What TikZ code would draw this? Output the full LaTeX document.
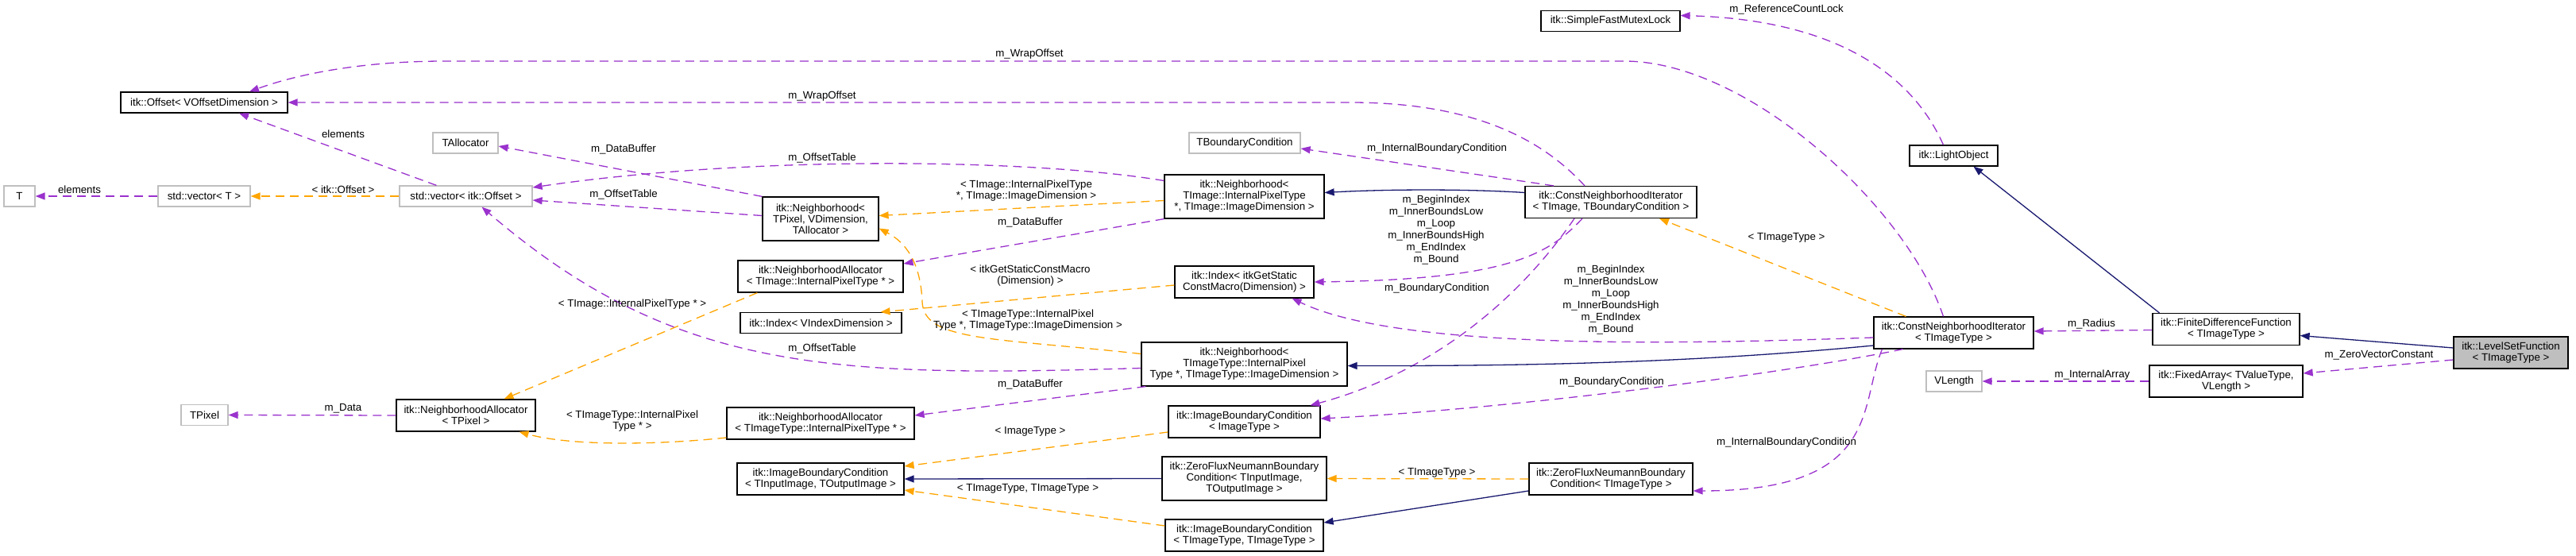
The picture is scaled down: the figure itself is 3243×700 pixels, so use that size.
\documentclass[tikz,border=0pt]{standalone}
\usepackage{fontspec}
\setmainfont{Liberation Sans}
\usetikzlibrary{arrows.meta}
\definecolor{memc}{HTML}{9A32CD}
\definecolor{tplc}{HTML}{FFA500}
\definecolor{inhc}{HTML}{191970}
\definecolor{grayb}{HTML}{BFBFBF}
\begin{document}
\begin{tikzpicture}[x=1pt,y=-1pt,
  every node/.style={font=\fontsize{13.3}{14}\selectfont},
  box/.style={draw=black, line width=1.2pt, fill=white, inner sep=0pt, align=center},
  ubox/.style={box, draw=grayb},
  lbl/.style={inner sep=0pt, align=center},
  stack/.style={lbl, font=\fontsize{13.3}{15}\selectfont},
  tip/.style={-{Triangle[length=12pt,width=9pt]}},
  memb/.style={tip, draw=memc, line width=1.3pt, dash pattern=on 11pt off 7pt},
  tmpl/.style={tip, draw=tplc, line width=1.3pt, dash pattern=on 11pt off 7pt},
  inher/.style={tip, draw=inhc, line width=1.3pt}]
\fill[white] (0,0) rectangle (3243,700);
\useasboundingbox (0,0) rectangle (3243,700);

% nodes
\node[box, minimum width=210pt, minimum height=26pt] (offset) at (257,129) {itk::Offset< VOffsetDimension >};
\node[ubox, minimum width=82pt, minimum height=26pt] (talloc) at (586,180) {TAllocator};
\node[ubox, minimum width=39pt, minimum height=26pt] (T) at (24.5,247) {T};
\node[ubox, minimum width=116pt, minimum height=26pt] (vecT) at (257,247) {std::vector< T >};
\node[ubox, minimum width=167pt, minimum height=26pt] (vecOff) at (586.5,247) {std::vector< itk::Offset >};
\node[ubox, minimum width=140pt, minimum height=26pt] (tbc) at (1567,180) {TBoundaryCondition};
\node[box, minimum width=146pt, minimum height=55pt] (nbPix) at (1033,275.5) {itk::Neighborhood<\\ TPixel, VDimension,\\ TAllocator >};
\node[box, minimum width=201pt, minimum height=55pt] (nbImg) at (1566.5,247.5) {itk::Neighborhood<\\ TImage::InternalPixelType\\ *, TImage::ImageDimension >};
\node[box, minimum width=208pt, minimum height=40pt] (naImg) at (1033,348) {itk::NeighborhoodAllocator\\< TImage::InternalPixelType * >};
\node[box, minimum width=175pt, minimum height=40pt] (idxMacro) at (1566.5,355) {itk::Index< itkGetStatic\\ConstMacro(Dimension) >};
\node[box, minimum width=175pt, minimum height=26pt] (mutex) at (2027.5,26.5) {itk::SimpleFastMutexLock};
\node[box, minimum width=111pt, minimum height=26pt] (light) at (2459.5,196) {itk::LightObject};
\node[box, minimum width=216pt, minimum height=40pt] (cniTBC) at (2028,254.5) {itk::ConstNeighborhoodIterator\\< TImage, TBoundaryCondition >};
\node[box, minimum width=203pt, minimum height=26pt] (idxV) at (1033.5,406.5) {itk::Index< VIndexDimension >};
\node[box, minimum width=259pt, minimum height=55pt] (nbType) at (1566.5,458.5) {itk::Neighborhood<\\ TImageType::InternalPixel\\Type *, TImageType::ImageDimension >};
\node[box, minimum width=236pt, minimum height=40pt] (naType) at (1033,533) {itk::NeighborhoodAllocator\\< TImageType::InternalPixelType * >};
\node[box, minimum width=191pt, minimum height=40pt] (ibcImg) at (1566.5,531) {itk::ImageBoundaryCondition\\< ImageType >};
\node[box, minimum width=210pt, minimum height=40pt] (ibcIO) at (1033,603) {itk::ImageBoundaryCondition\\< TInputImage, TOutputImage >};
\node[box, minimum width=207pt, minimum height=55pt] (zfIO) at (1566.5,602.5) {itk::ZeroFluxNeumannBoundary\\Condition< TInputImage,\\ TOutputImage >};
\node[box, minimum width=199pt, minimum height=40pt] (ibcTT) at (1566.5,674) {itk::ImageBoundaryCondition\\< TImageType, TImageType >};
\node[ubox, minimum width=59pt, minimum height=26pt] (tpixel) at (257.5,522.5) {TPixel};
\node[box, minimum width=175pt, minimum height=40pt] (naPix) at (586.5,523) {itk::NeighborhoodAllocator\\< TPixel >};
\node[box, minimum width=201pt, minimum height=40pt] (cniT) at (2459.5,419) {itk::ConstNeighborhoodIterator\\< TImageType >};
\node[box, minimum width=206pt, minimum height=40pt] (zfT) at (2028,603) {itk::ZeroFluxNeumannBoundary\\Condition< TImageType >};
\node[box, minimum width=185pt, minimum height=40pt] (fdf) at (2802.5,414.5) {itk::FiniteDifferenceFunction\\< TImageType >};
\node[box, fill=grayb, minimum width=144pt, minimum height=40pt] (lsf) at (3161,444) {itk::LevelSetFunction\\< TImageType >};
\node[box, minimum width=193pt, minimum height=40pt] (fixed) at (2802.5,480) {itk::FixedArray< TValueType,\\VLength >};
\node[ubox, minimum width=70pt, minimum height=26pt] (vlen) at (2460,480) {VLength};

% member edges
\draw[memb] ([xshift=-13pt]cniT.north) .. controls (2400,260) and (2200,77) .. (2045,77) -- (560,77) .. controls (450,77) and (370,95) .. ([xshift=57pt]offset.north);
\draw[memb] ([xshift=-33pt]cniTBC.north) .. controls (1950,185) and (1870,129) .. (1700,129) -- (offset.east);
\draw[memb] ([xshift=-37pt]vecOff.north) -- ([xshift=44pt]offset.south);
\draw[memb] (vecT.west) -- (T.east);
\draw[memb] (nbPix.north west) -- ([yshift=-4pt]talloc.east);
\draw[memb] ([yshift=4pt]nbPix.west) -- ([yshift=-5pt]vecOff.east);
\draw[memb] ([yshift=20pt]nbImg.west) .. controls (1300,200) and (950,195) .. ([yshift=11pt]vecOff.east);
\draw[memb] (nbImg.south west) -- ([yshift=16pt]naImg.east);
\draw[memb] ([xshift=-72pt]cniTBC.north) -- ([yshift=-7pt]tbc.east);
\draw[memb] ([xshift=-36pt]cniTBC.south) .. controls (1950,320) and (1900,352) .. (idxMacro.east);
\draw[memb] ([xshift=-46pt]cniTBC.south) .. controls (1910,380) and (1800,470) .. ([xshift=83pt]ibcImg.north);
\draw[memb] ([yshift=-6pt]cniT.west) .. controls (2100,434) and (1760,440) .. ([xshift=60pt]idxMacro.south);
\draw[memb] ([xshift=-64pt]cniT.south) .. controls (2250,470) and (1900,515) .. ([yshift=4pt]ibcImg.east);
\draw[memb] ([xshift=-90pt]cniT.south) .. controls (2340,510) and (2370,618) .. ([yshift=-15pt]zfT.east);
\draw[memb] ([yshift=-9pt]lsf.west) -- ([yshift=10pt]fixed.east);
\draw[memb] (fixed.west) -- (vlen.east);
\draw[memb] ([yshift=-1pt]fdf.west) -- ([yshift=2pt]cniT.east);
\draw[memb] ([xshift=-13pt]light.north) .. controls (2410,100) and (2320,25) .. ([yshift=7pt]mutex.east);
\draw[memb] (naPix.west) -- (tpixel.east);
\draw[memb] ([yshift=-5pt]nbType.west) .. controls (1050,475) and (850,470) .. ([xshift=20pt]vecOff.south);
\draw[memb] ([xshift=6pt]nbType.south west) -- ([yshift=10pt]naType.east);

% template edges
\draw[tmpl] (vecOff.west) -- (vecT.east);
\draw[tmpl] ([yshift=-5pt]nbImg.west) -- ([yshift=4pt]nbPix.east);
\draw[tmpl] ([yshift=13pt]nbType.west) .. controls (1250,425) and (1163,430) .. (1161,380) .. controls (1159,330) and (1140,305) .. ([yshift=-12pt]nbPix.east);
\draw[tmpl] ([xshift=25pt]naImg.south west) -- ([xshift=48pt]naPix.north);
\draw[tmpl] ([yshift=-18pt]naType.west) .. controls (830,560) and (720,562) .. ([xshift=67pt]naPix.south);
\draw[tmpl] ([yshift=-4pt]idxMacro.west) -- ([xshift=75pt]idxV.north);
\draw[tmpl] ([yshift=-13pt]ibcImg.west) -- ([yshift=16pt]ibcIO.east);
\draw[tmpl] ([yshift=12pt]ibcTT.west) -- ([yshift=-14pt]ibcIO.east);
\draw[tmpl] (zfT.west) -- (zfIO.east);
\draw[tmpl] ([xshift=-60pt]cniT.north) -- ([xshift=61pt]cniTBC.south);

% inheritance edges
\draw[inher] ([yshift=12pt]cniTBC.west) .. controls (1850,238) and (1750,238) .. ([yshift=5pt]nbImg.east);
\draw[inher] ([yshift=-16pt]cniT.west) .. controls (2150,455) and (1950,461) .. ([yshift=-2pt]nbType.east);
\draw[inher] (zfIO.west) -- (ibcIO.east);
\draw[inher] ([yshift=-15pt]zfT.west) -- ([yshift=16pt]ibcTT.east);
\draw[inher] ([xshift=-84pt]fdf.north) -- ([xshift=25pt]light.south);
\draw[inher] ([yshift=6pt]lsf.west) -- ([yshift=-8pt]fdf.east);

% labels
\node[lbl] (l1) at (1296,68) {m\_WrapOffset};
\node[lbl] (l2) at (1035,121) {m\_WrapOffset};
\node[lbl] (l3) at (432,169) {elements};
\node[lbl] (l4) at (100,239) {elements};
\node[lbl] (l5) at (432,239) {< itk::Offset >};
\node[lbl] (l6) at (785,188) {m\_DataBuffer};
\node[lbl] (l7) at (785,245) {m\_OffsetTable};
\node[lbl] (l8) at (1035,199) {m\_OffsetTable};
\node[lbl] (l9) at (1292,240) {< TImage::InternalPixelType\\*, TImage::ImageDimension >};
\node[lbl] (l10) at (1297,280) {m\_DataBuffer};
\node[lbl] (l11) at (1297,347) {< itkGetStaticConstMacro\\(Dimension) >};
\node[lbl] (l12) at (1294,403) {< TImageType::InternalPixel\\Type *, TImageType::ImageDimension >};
\node[lbl] (l13) at (1035,439) {m\_OffsetTable};
\node[lbl] (l14) at (1297,484) {m\_DataBuffer};
\node[lbl] (l15) at (796,383) {< TImage::InternalPixelType * >};
\node[lbl] (l16) at (796,530) {< TImageType::InternalPixel\\Type * >};
\node[lbl] (l17) at (432,514) {m\_Data};
\node[lbl] (l18) at (1297,543) {< ImageType >};
\node[lbl] (l19) at (1294,615) {< TImageType, TImageType >};
\node[lbl] (l20) at (1809,187) {m\_InternalBoundaryCondition};
\node[stack] (l21) at (1808,290) {m\_BeginIndex\\m\_InnerBoundsLow\\m\_Loop\\m\_InnerBoundsHigh\\m\_EndIndex\\m\_Bound};
\node[lbl] (l22) at (2249,12) {m\_ReferenceCountLock};
\node[lbl] (l23) at (2249,299) {< TImageType >};
\node[stack] (l24) at (2028,378) {m\_BeginIndex\\m\_InnerBoundsLow\\m\_Loop\\m\_InnerBoundsHigh\\m\_EndIndex\\m\_Bound};
\node[lbl] (l25) at (1809,363) {m\_BoundaryCondition};
\node[lbl] (l26) at (2029,481) {m\_BoundaryCondition};
\node[lbl] (l27) at (2249,557) {m\_InternalBoundaryCondition};
\node[lbl] (l28) at (1809,595) {< TImageType >};
\node[lbl] (l29) at (2633,408) {m\_Radius};
\node[lbl] (l30) at (2995,447) {m\_ZeroVectorConstant};
\node[lbl] (l31) at (2634,472) {m\_InternalArray};
\end{tikzpicture}
\end{document}
